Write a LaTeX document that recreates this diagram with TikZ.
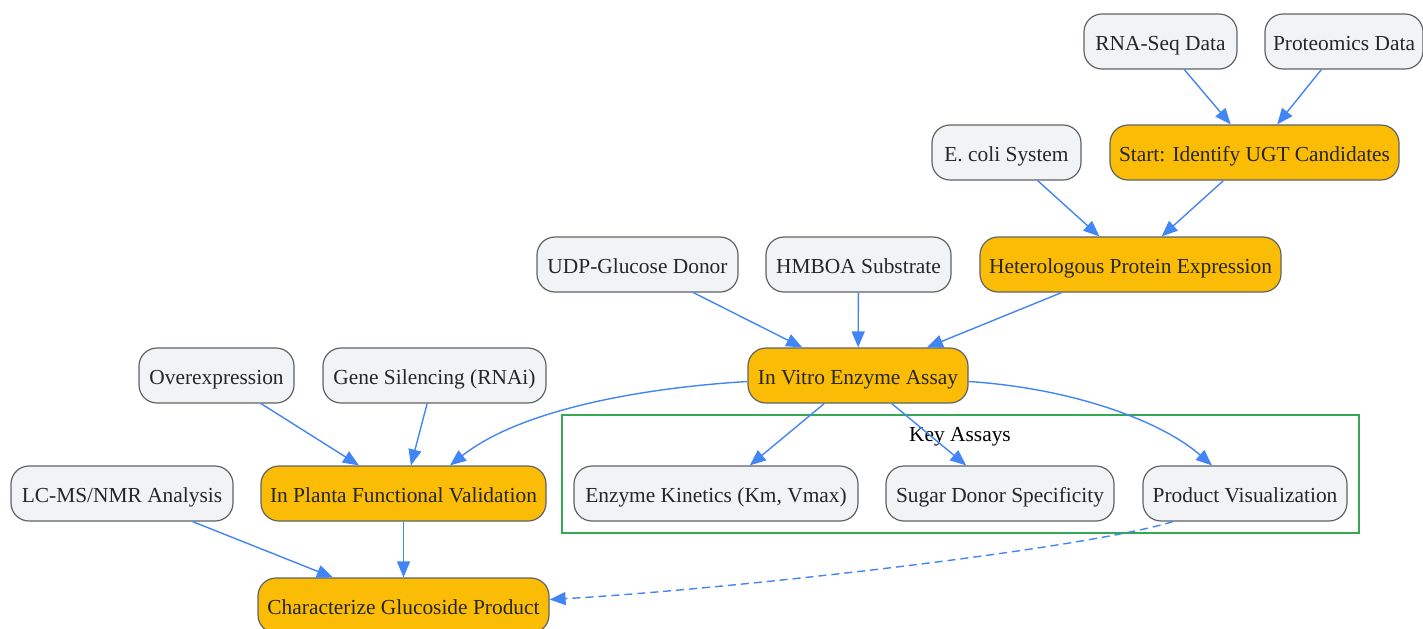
\documentclass[tikz,border=0pt]{standalone}
\usepackage{fontspec}
\setmainfont{Liberation Serif}
\usetikzlibrary{arrows.meta}
\definecolor{boxgray}{HTML}{F1F3F4}
\definecolor{boxline}{HTML}{5F6368}
\definecolor{stepgold}{HTML}{FBBC05}
\definecolor{flowblue}{HTML}{4285F4}
\definecolor{groupgreen}{HTML}{34A853}
\begin{document}
\begin{tikzpicture}[
    % GLOBAL CFG
    x=0.5pt, y=-0.5pt,
    font=\fontsize{10.7}{12}\selectfont,
    % Styles
    data/.style={% For the grey input boxes
        rectangle,
        rounded corners=9pt,
        draw=boxline,
        line width=0.6pt,
        fill=boxgray,
        text=black!85,
        minimum height=27.5pt,
        text height=9pt,
        text depth=0.3pt,
        inner sep=2pt,
        },
    stage/.style={% For the main workflow steps
        data,
        fill=stepgold,
        },
    group/.style={% For the cluster frame
        rectangle,
        draw=groupgreen,
        line width=0.6pt,
        },
    flow/.style={% Arrows
        draw=flowblue,
        line width=0.7pt,
        -{Triangle[length=8pt,width=6.5pt]},
        },
    ]

    \useasboundingbox (0,0) rectangle (1423,628);

    % Draw the cluster first, so it stays behind
    \node [group, minimum width=398.5pt, minimum height=59pt] (keybox) at (960.5,474) {};
    \node (keylabel) at (960,437) {Key Assays};

    % Draw inputs
    \node [data, minimum width=76.5pt] (rnaseq) at (1160.5,41.5) {RNA-Seq Data};
    \node [data, minimum width=79pt] (proteo) at (1344,41.5) {Proteomics Data};
    \node [data, minimum width=74.5pt] (ecoli) at (1006.5,152.5) {E. coli System};
    \node [data, minimum width=100.5pt] (udp) at (637.5,264.5) {UDP-Glucose Donor};
    \node [data, minimum width=92.5pt] (hmboa) at (858.5,264.5) {HMBOA Substrate};
    \node [data, minimum width=77.5pt] (overexp) at (216.5,375.5) {Overexpression};
    \node [data, minimum width=111.5pt] (rnai) at (434.5,375.5) {Gene Silencing (RNAi)};
    \node [data, minimum width=111pt] (lcms) at (122,493.5) {LC-MS/NMR Analysis};

    % Draw the steps
    \node [stage, minimum width=144.5pt] (start) at (1254.5,152.5) {Start: Identify UGT Candidates};
    \node [stage, minimum width=150.5pt] (hetero) at (1130.5,264.5) {Heterologous Protein Expression};
    \node [stage, minimum width=110pt] (invitro) at (858,375.5) {In Vitro Enzyme Assay};
    \node [stage, minimum width=142.5pt] (inplanta) at (403.5,493.5) {In Planta Functional Validation};
    \node [stage, minimum width=145.5pt] (charact) at (403.5,605.5) {Characterize Glucoside Product};

    % Draw the assays inside the cluster
    \node [data, minimum width=142pt] (kinetics) at (716,493.5) {Enzyme Kinetics (Km, Vmax)};
    \node [data, minimum width=114pt] (sugar) at (1000,493.5) {Sugar Donor Specificity};
    \node [data, minimum width=102pt] (visual) at (1245,493.5) {Product Visualization};

% Start connecting all.
    % Top part
    \draw [flow] (rnaseq) -- (start);
    \draw [flow] (proteo) -- (start);
    \draw [flow] (ecoli) -- (hetero);
    \draw [flow] (start) -- (hetero);

    % Into the assay
    \draw [flow] (udp) -- (invitro);
    \draw [flow] (hmboa) -- (invitro);
    \draw [flow] (hetero) -- (invitro);

    % Out of the assay
    \draw [flow] ([yshift=-3pt]invitro.west) .. controls (640,388) and (520,410) .. ([xshift=23.25pt]inplanta.north);
    \draw [flow] (invitro) -- (kinetics);
    \draw [flow] (invitro) -- (sugar);
    \draw [flow] ([yshift=-3pt]invitro.east) .. controls (1070,388) and (1160,420) .. ([xshift=-16.5pt]visual.north);

    % Validation
    \draw [flow] (overexp) -- (inplanta);
    \draw [flow] (rnai) -- (inplanta);
    \draw [flow] (lcms) -- (charact);
    \draw [flow] (inplanta) -- (charact);
    \draw [flow, dash pattern=on 4pt off 2.5pt] ([xshift=-36pt]visual.south) .. controls (1080,550) and (720,590) .. ([yshift=3pt]charact.east);
\end{tikzpicture}
\end{document}
